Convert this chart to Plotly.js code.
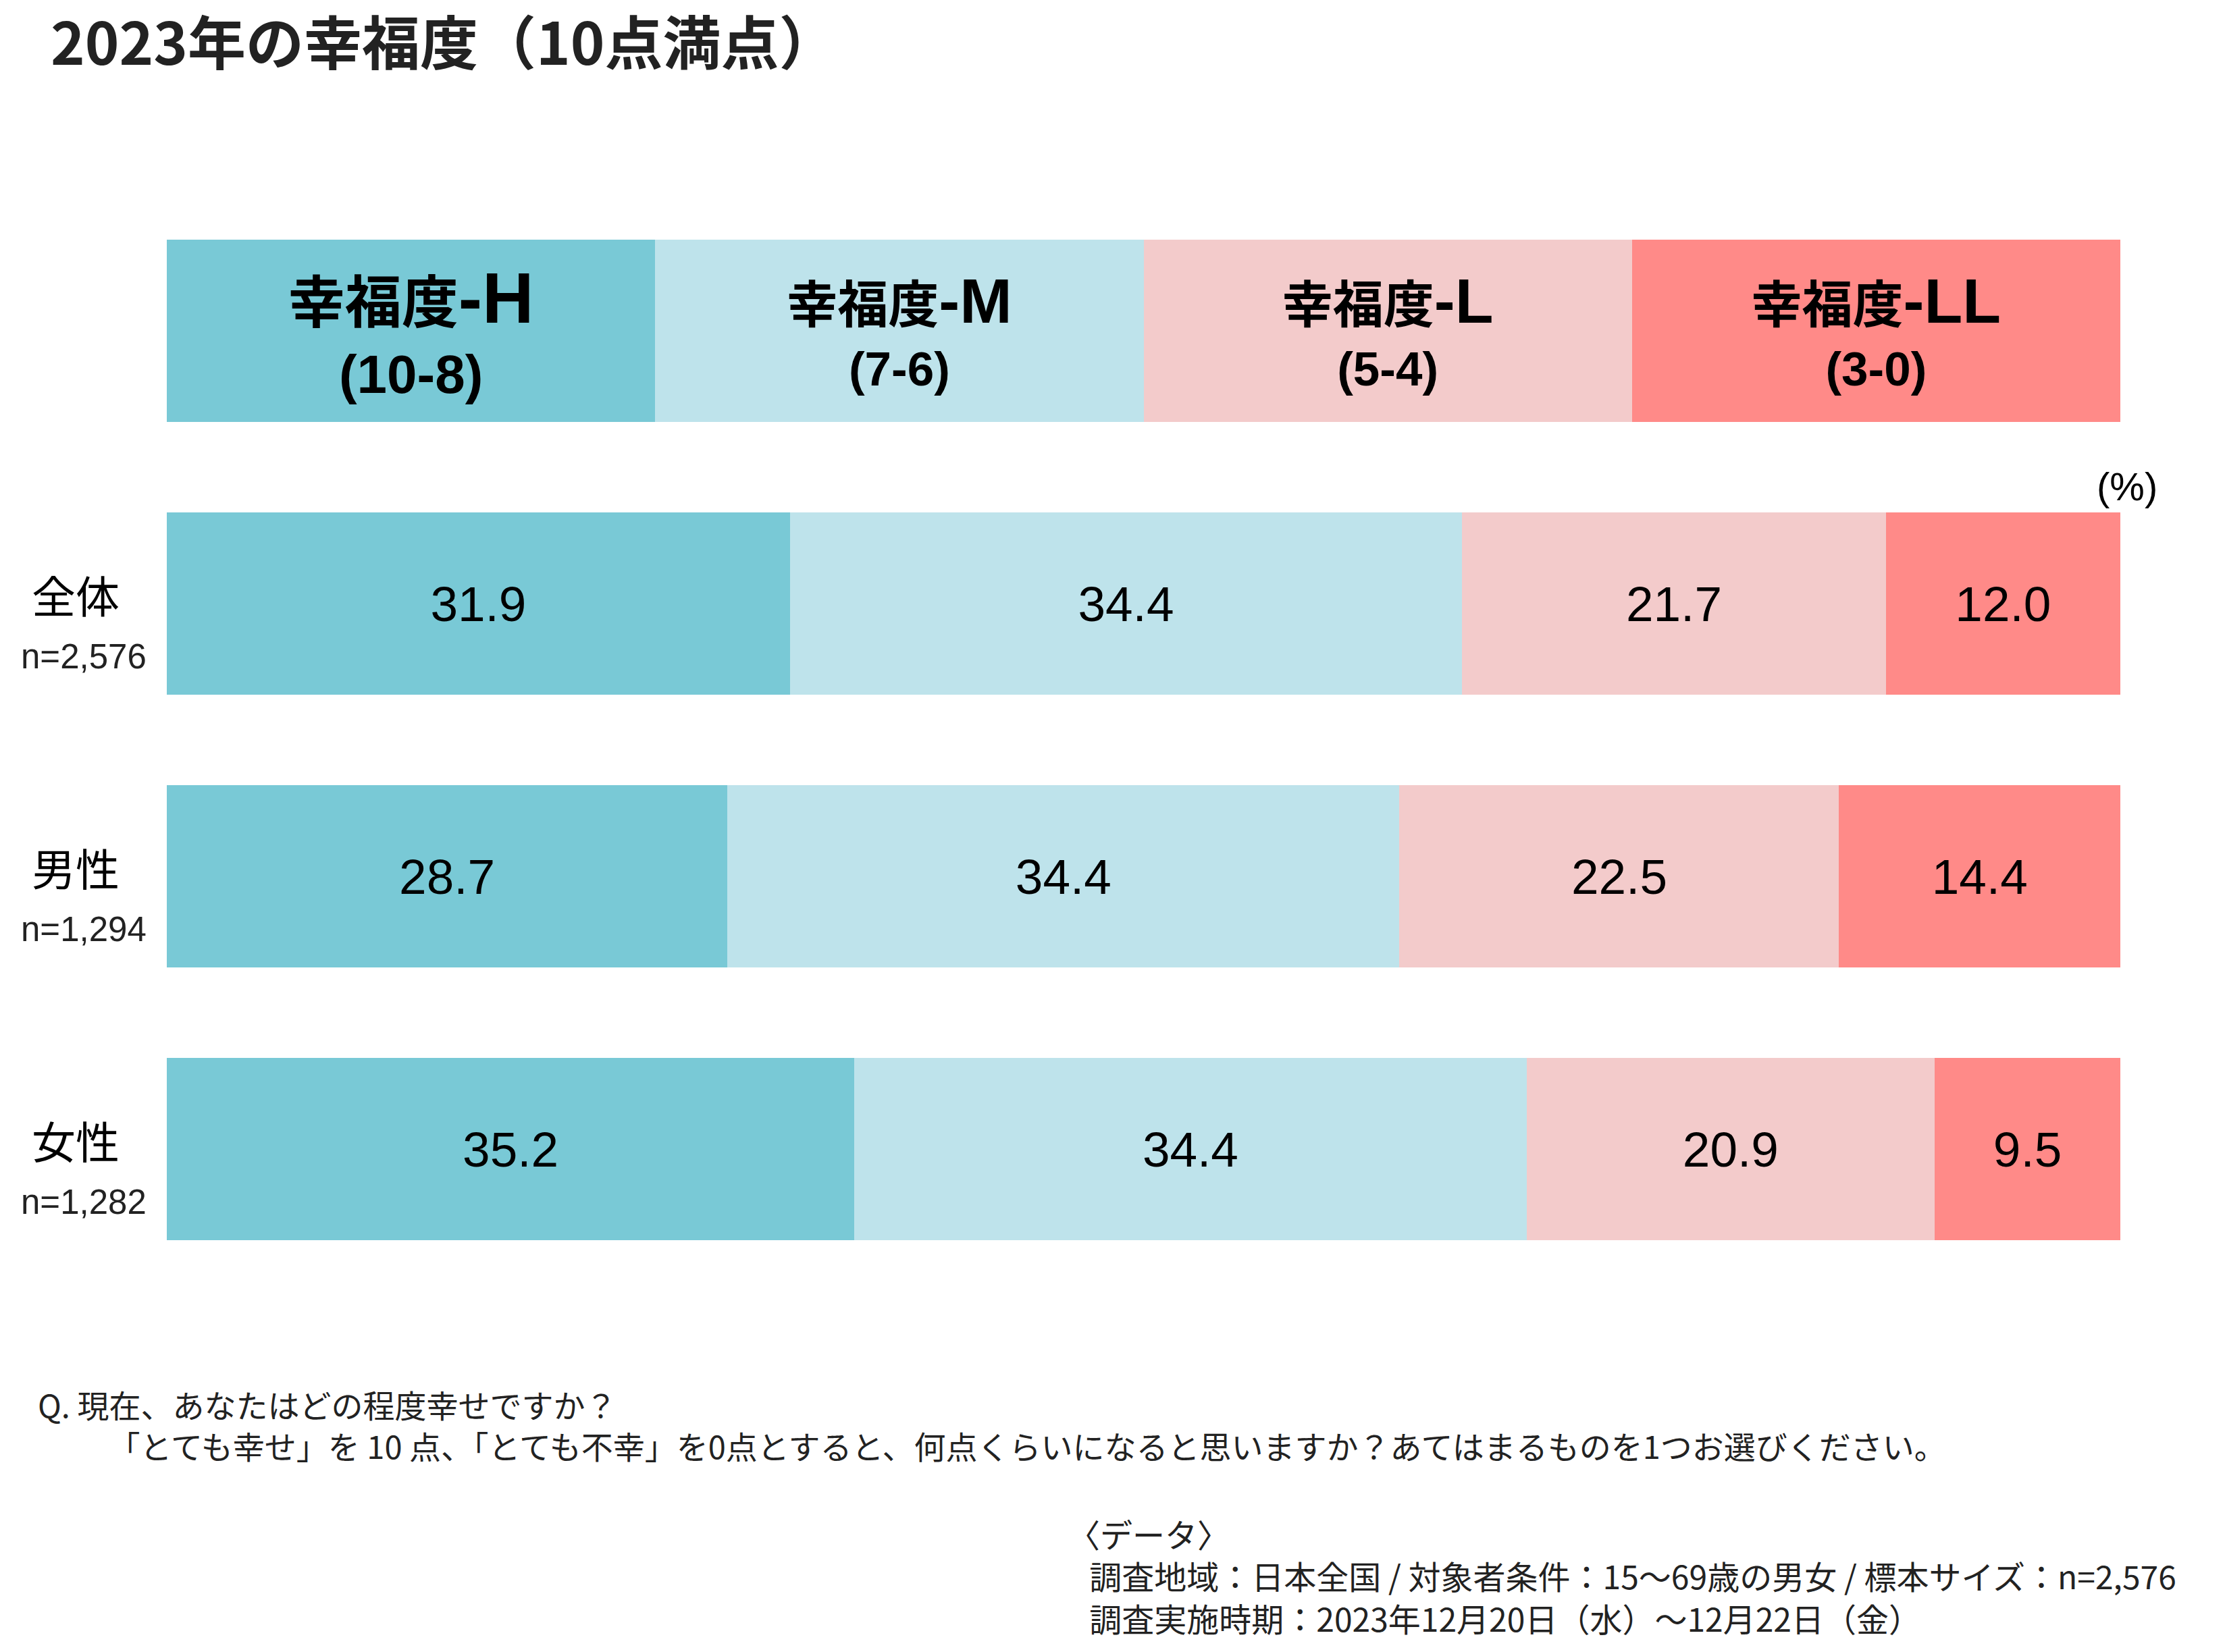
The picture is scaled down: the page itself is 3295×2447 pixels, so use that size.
<!DOCTYPE html>
<html>
<head>
<meta charset="utf-8">
<script src="https://cdn.plot.ly/plotly-3.0.1.min.js"></script>
<style>html,body{margin:0;padding:0;background:#fff;}#chart{width:3295px;height:2447px;}</style>
</head>
<body>
<div id="chart"></div>
<script>
// ---- data ----
const groups = ['全体', '男性', '女性'];
const nLabels = ['n=2,576', 'n=1,294', 'n=1,282'];
const headerKey = '区分';
const levelPrefix = '幸福度';
const levelCodes = ['H', 'M', 'L', 'LL'];
const levelRanges = ['(10-8)', '(7-6)', '(5-4)', '(3-0)'];
const headerShare = [25, 25, 25, 25];
const valH  = [31.9, 28.7, 35.2];
const valM  = [34.4, 34.4, 34.4];
const valL  = [21.7, 22.5, 20.9];
const valLL = [12.0, 14.4, 9.5];
const series = [valH, valM, valL, valLL];
const colors = ['#79C9D6', '#BEE3EB', '#F3CBCB', '#FF8A88'];
const questionLines = ['Q. 現在、あなたはどの程度幸せですか？',
  '\u3000\u3000\u00a0「とても幸せ」を 10 点、「とても不幸」を0点とすると、何点くらいになると思いますか？あてはまるものを1つお選びください。'];
const sourceLines = ['〈データ〉',
  '\u00a0\u00a0\u00a0調査地域：日本全国 / 対象者条件：15～69歳の男女 / 標本サイズ：n=2,576',
  '\u00a0\u00a0\u00a0調査実施時期：2023年12月20日（水）～12月22日（金）'];

const latin = 'Liberation Sans, Arial, Noto Sans CJK JP, sans-serif';
const cjk = 'Noto Sans CJK JP, sans-serif';
const categories = [headerKey].concat(groups);

const traces = series.map((vals, i) => {
  const big = i === 0;
  const k = big ? 84 : 75, l = big ? 106 : 93, base = big ? 80 : 71;
  const head = '<b><span style="font-size:' + k + 'px">' + levelPrefix +
    '</span><span style="font-size:' + l + 'px">-' + levelCodes[i] + '</span><br>' + levelRanges[i] + '</b>';
  return {
    type: 'bar', orientation: 'h',
    x: [headerShare[i]].concat(vals),
    y: categories,
    marker: {color: colors[i], line: {width: 0}},
    text: [head].concat(vals.map(v => v.toFixed(1))),
    textposition: 'inside', insidetextanchor: 'middle', textangle: 0,
    constraintext: 'none',
    textfont: {family: latin, color: '#000', size: [base, 73, 73, 73]},
    hoverinfo: 'skip', showlegend: false
  };
});

const L = 247, PW = 2893, T = 288, PH = 1616;
const px = v => (v - L) / PW;
const py = v => (T + PH - v) / PH;

const annotations = [];
groups.forEach((g, j) => {
  annotations.push({xref: 'paper', yref: 'y', x: -0.0467, y: g, xanchor: 'center', yanchor: 'middle',
    yshift: 14, text: g, showarrow: false, font: {family: cjk, size: 65, color: '#000'}});
  annotations.push({xref: 'paper', yref: 'y', x: -0.0425, y: g, xanchor: 'center', yanchor: 'middle',
    yshift: -78, text: nLabels[j], showarrow: false, font: {family: latin, size: 51, color: '#222'}});
});
annotations.push({xref: 'paper', yref: 'paper', x: px(3150), y: py(720), xanchor: 'center', yanchor: 'middle',
  text: '(%)', showarrow: false, font: {family: latin, size: 58, color: '#000'}});
annotations.push({xref: 'paper', yref: 'paper', x: px(54), y: py(2110), xanchor: 'left', yanchor: 'middle',
  align: 'left', text: questionLines.join('<br>'), showarrow: false,
  font: {family: cjk, size: 47, color: '#222'}});
annotations.push({xref: 'paper', yref: 'paper', x: px(1579), y: py(2333), xanchor: 'left', yanchor: 'middle',
  align: 'left', text: sourceLines.join('<br>'), showarrow: false,
  font: {family: cjk, size: 48, color: '#222'}});

const layout = {
  width: 3295, height: 2447,
  paper_bgcolor: '#fff', plot_bgcolor: '#fff',
  margin: {l: L, r: 3295 - L - PW, t: T, b: 2447 - T - PH, pad: 0},
  title: {text: '<b>2023年の幸福度（10点満点）</b>', x: 75 / 3295, xanchor: 'left', xref: 'container',
    y: 1 - 66 / 2447, yanchor: 'middle', yref: 'container',
    font: {family: cjk, size: 86, color: '#222'}},
  barmode: 'stack', bargap: 0.334,
  xaxis: {range: [0, 100], visible: false, fixedrange: true},
  yaxis: {type: 'category', categoryarray: categories, categoryorder: 'array', range: [3.5, -0.5],
    showticklabels: false, showgrid: false, zeroline: false, showline: false, ticks: ''},
  annotations: annotations,
  showlegend: false
};
Plotly.newPlot('chart', traces, layout, {displayModeBar: false, staticPlot: true});
</script>
</body>
</html>
